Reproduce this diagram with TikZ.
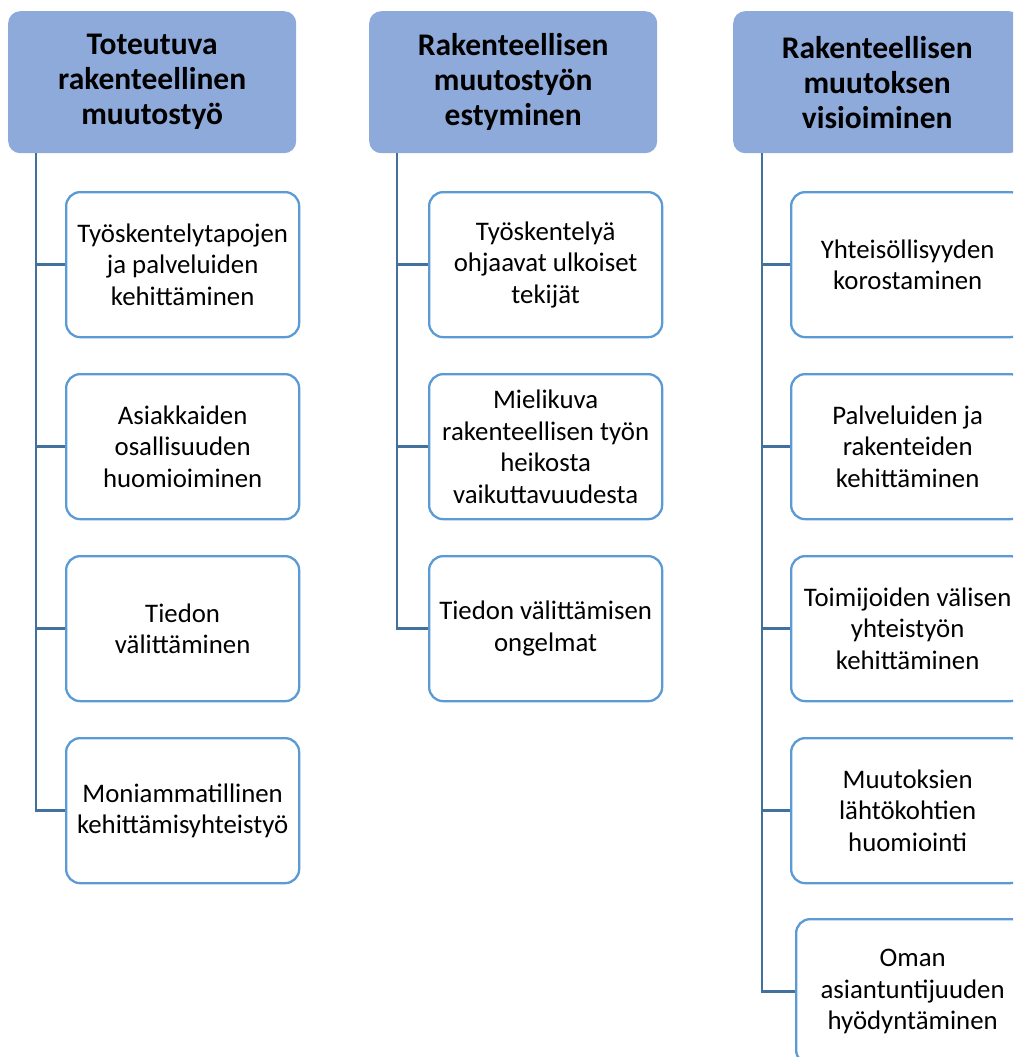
\documentclass[tikz,border=0pt]{standalone}
\usepackage{fontspec}
\setmainfont{Carlito}
\begin{document}
\begin{tikzpicture}[x=1pt,y=-1pt,
  hdr/.style={fill=hdrfill,draw=none,rounded corners=12pt,minimum width=288pt,minimum height=142pt,anchor=north west,align=center,font=\fontsize{31.5}{35}\selectfont\bfseries,inner sep=0pt},
  child/.style={draw=childline,line width=2.3pt,fill=white,rounded corners=14pt,minimum width=233pt,minimum height=145pt,anchor=north west,align=center,font=\fontsize{26.8}{31.5}\selectfont,inner sep=0pt},
  conn/.style={draw=connline,line width=2.6pt}]
\definecolor{hdrfill}{RGB}{142,170,219}
\definecolor{childline}{RGB}{91,155,213}
\definecolor{connline}{RGB}{65,113,156}
\useasboundingbox (0,0) rectangle (1013,1057);
\clip (0,0) rectangle (1013,1057);
% headers
\node[hdr] (h1) at (8,11) {Toteutuva\\rakenteellinen\\muutostyö};
\node[hdr] (h2) at (369,11) {Rakenteellisen\\muutostyön\\estyminen};
\node[hdr] (h3) at (733,11) {Rakenteellisen\\muutoksen\\visioiminen};
% column 1
\node[child] (a1) at (65,191) {Työskentelytapojen\\ja palveluiden\\kehittäminen};
\node[child] (a2) at (65,373) {Asiakkaiden\\osallisuuden\\huomioiminen};
\node[child] (a3) at (65,555) {Tiedon\\välittäminen};
\node[child] (a4) at (65,737) {Moniammatillinen\\kehittämisyhteistyö};
% column 2
\node[child] (b1) at (428,191) {Työskentelyä\\ohjaavat ulkoiset\\tekijät};
\node[child] (b2) at (428,373) {Mielikuva\\rakenteellisen työn\\heikosta\\vaikuttavuudesta};
\node[child] (b3) at (428,555) {Tiedon välittämisen\\ongelmat};
% column 3
\node[child] (c1) at (790,191) {Yhteisöllisyyden\\korostaminen};
\node[child] (c2) at (790,373) {Palveluiden ja\\rakenteiden\\kehittäminen};
\node[child] (c3) at (790,555) {Toimijoiden välisen\\yhteistyön\\kehittäminen};
\node[child] (c4) at (790,737) {Muutoksien\\lähtökohtien\\huomiointi};
\node[child] (c5) at (795,918) {Oman\\asiantuntijuuden\\hyödyntäminen};
% connectors
\coordinate (t1) at (36,153);
\coordinate (t2) at (397,153);
\coordinate (t3) at (762,153);
\draw[conn] (t1) |- (a4.west);
\foreach \n in {a1,a2,a3} \draw[conn] (t1) |- (\n.west);
\draw[conn] (t2) |- (b3.west);
\foreach \n in {b1,b2} \draw[conn] (t2) |- (\n.west);
\draw[conn] (t3) |- (c5.west);
\foreach \n in {c1,c2,c3,c4} \draw[conn] (t3) |- (\n.west);
\end{tikzpicture}
\end{document}
